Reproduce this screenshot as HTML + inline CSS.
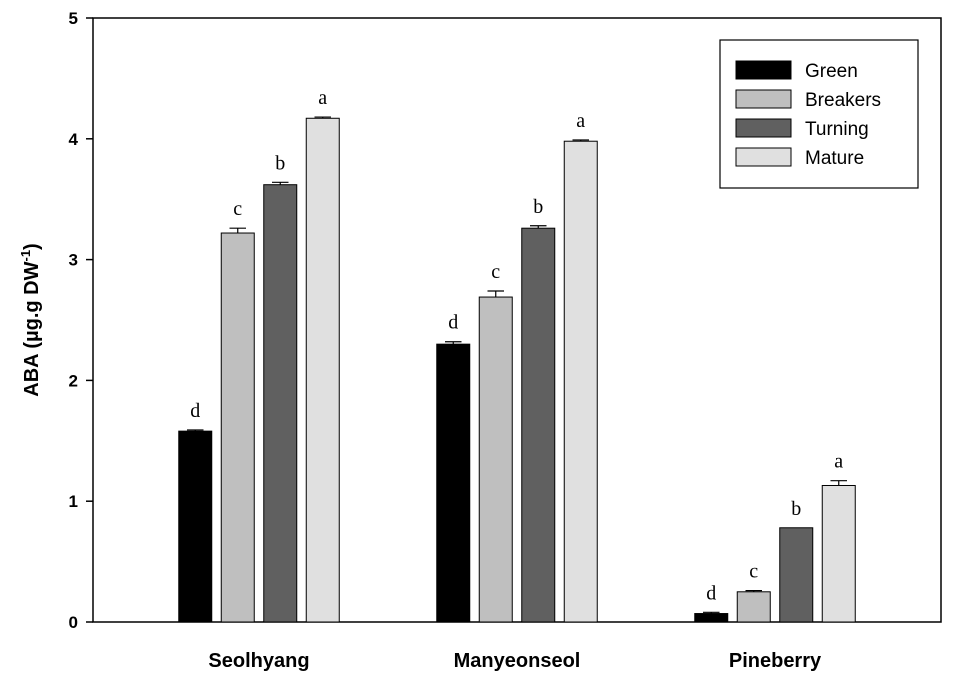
<!DOCTYPE html>
<html><head><meta charset="utf-8"><style>
body{margin:0;background:#fff;}
svg{display:block;font-family:"Liberation Sans",sans-serif;}
</style></head><body>
<svg id="chart" width="954" height="677"></svg>
<script>
const categories=["Seolhyang","Manyeonseol","Pineberry"];
const seriesNames=["Green","Breakers","Turning","Mature"];
const seriesColors=["#000000","#bfbfbf","#606060","#e0e0e0"];
const green=[1.58,2.30,0.07];
const breakers=[3.22,2.69,0.25];
const turning=[3.62,3.26,0.78];
const mature=[4.17,3.98,1.13];
const errGreen=[0.01,0.02,0.01];
const errBreakers=[0.04,0.05,0.01];
const errTurning=[0.02,0.02,0.0];
const errMature=[0.01,0.01,0.04];
const letters=[["d","d","d"],["c","c","c"],["b","b","b"],["a","a","a"]];
const yTicks=[0,1,2,3,4,5];

const values=[green,breakers,turning,mature];
const errs=[errGreen,errBreakers,errTurning,errMature];
const svg=document.getElementById('chart');
const NS='http://www.w3.org/2000/svg';
const L=93,R=941,T=18,B=622;
const y=v=>B-(v/5)*(B-T);
const gx=i=>259+i*258;
const bw=33,step=42.5;
const bx=(g,s)=>gx(g)+(s-1.5)*step-bw/2;
function mk(tag,a,parent){const e=document.createElementNS(NS,tag);for(const k in a)e.setAttribute(k,a[k]);(parent||svg).appendChild(e);return e;}

const frame=mk('rect',{x:L,y:T,width:R-L,height:B-T,fill:'none',stroke:'#000','stroke-width':1.5});



yTicks.forEach(t=>{
  const tk=mk('line',{x1:L-7,x2:L,y1:y(t),y2:y(t),stroke:'#000','stroke-width':1.5});
  
  
  const tl=mk('text',{x:L-15,y:y(t)+6,'text-anchor':'end','font-size':17,'font-weight':'bold'});
  tl.textContent=t;
  
  
});

values.forEach((arr,s)=>{
  arr.forEach((v,g)=>{
    const x0=bx(g,s);
    const r=mk('rect',{x:x0,y:y(v),width:bw,height:B-y(v),fill:seriesColors[s],stroke:'#000','stroke-width':1});
    
    
    const e=errs[s][g];
    const cx=x0+bw/2;
    if(e>0){
      const eb=mk('path',{d:`M${cx},${y(v)}V${y(v+e)}M${cx-bw/4},${y(v+e)}H${cx+bw/4}`,stroke:'#000','stroke-width':1.2,fill:'none'});
      
      
    }
    const lt=mk('text',{x:cx,y:y(v+e)-13,'text-anchor':'middle','font-size':20,'font-family':'Liberation Serif,serif'});
    lt.textContent=letters[s][g];
    
    
  });
});

categories.forEach((c,g)=>{
  const t=mk('text',{x:gx(g),y:667,'text-anchor':'middle','font-size':20,'font-weight':'bold'});
  t.textContent=c;
  
  
});

const yt=mk('text',{x:0,y:0,transform:'translate(38,320) rotate(-90)','text-anchor':'middle','font-size':20,'font-weight':'bold'});
yt.innerHTML='ABA (µg.g DW<tspan dy="-8" font-size="13">-1</tspan><tspan dy="8">)</tspan>';



const lg=mk('g',{});


mk('rect',{x:720,y:40,width:198,height:148,fill:'#fff',stroke:'#000','stroke-width':1.2},lg);
seriesNames.forEach((n,s)=>{
  const yy=61+s*29;
  const sw=mk('rect',{x:736,y:yy,width:55,height:18,fill:seriesColors[s],stroke:'#000','stroke-width':1},lg);
  
  
  const t=mk('text',{x:805,y:yy+16,'font-size':19},lg);
  t.textContent=n;
  
  
});
</script>
</body></html>
